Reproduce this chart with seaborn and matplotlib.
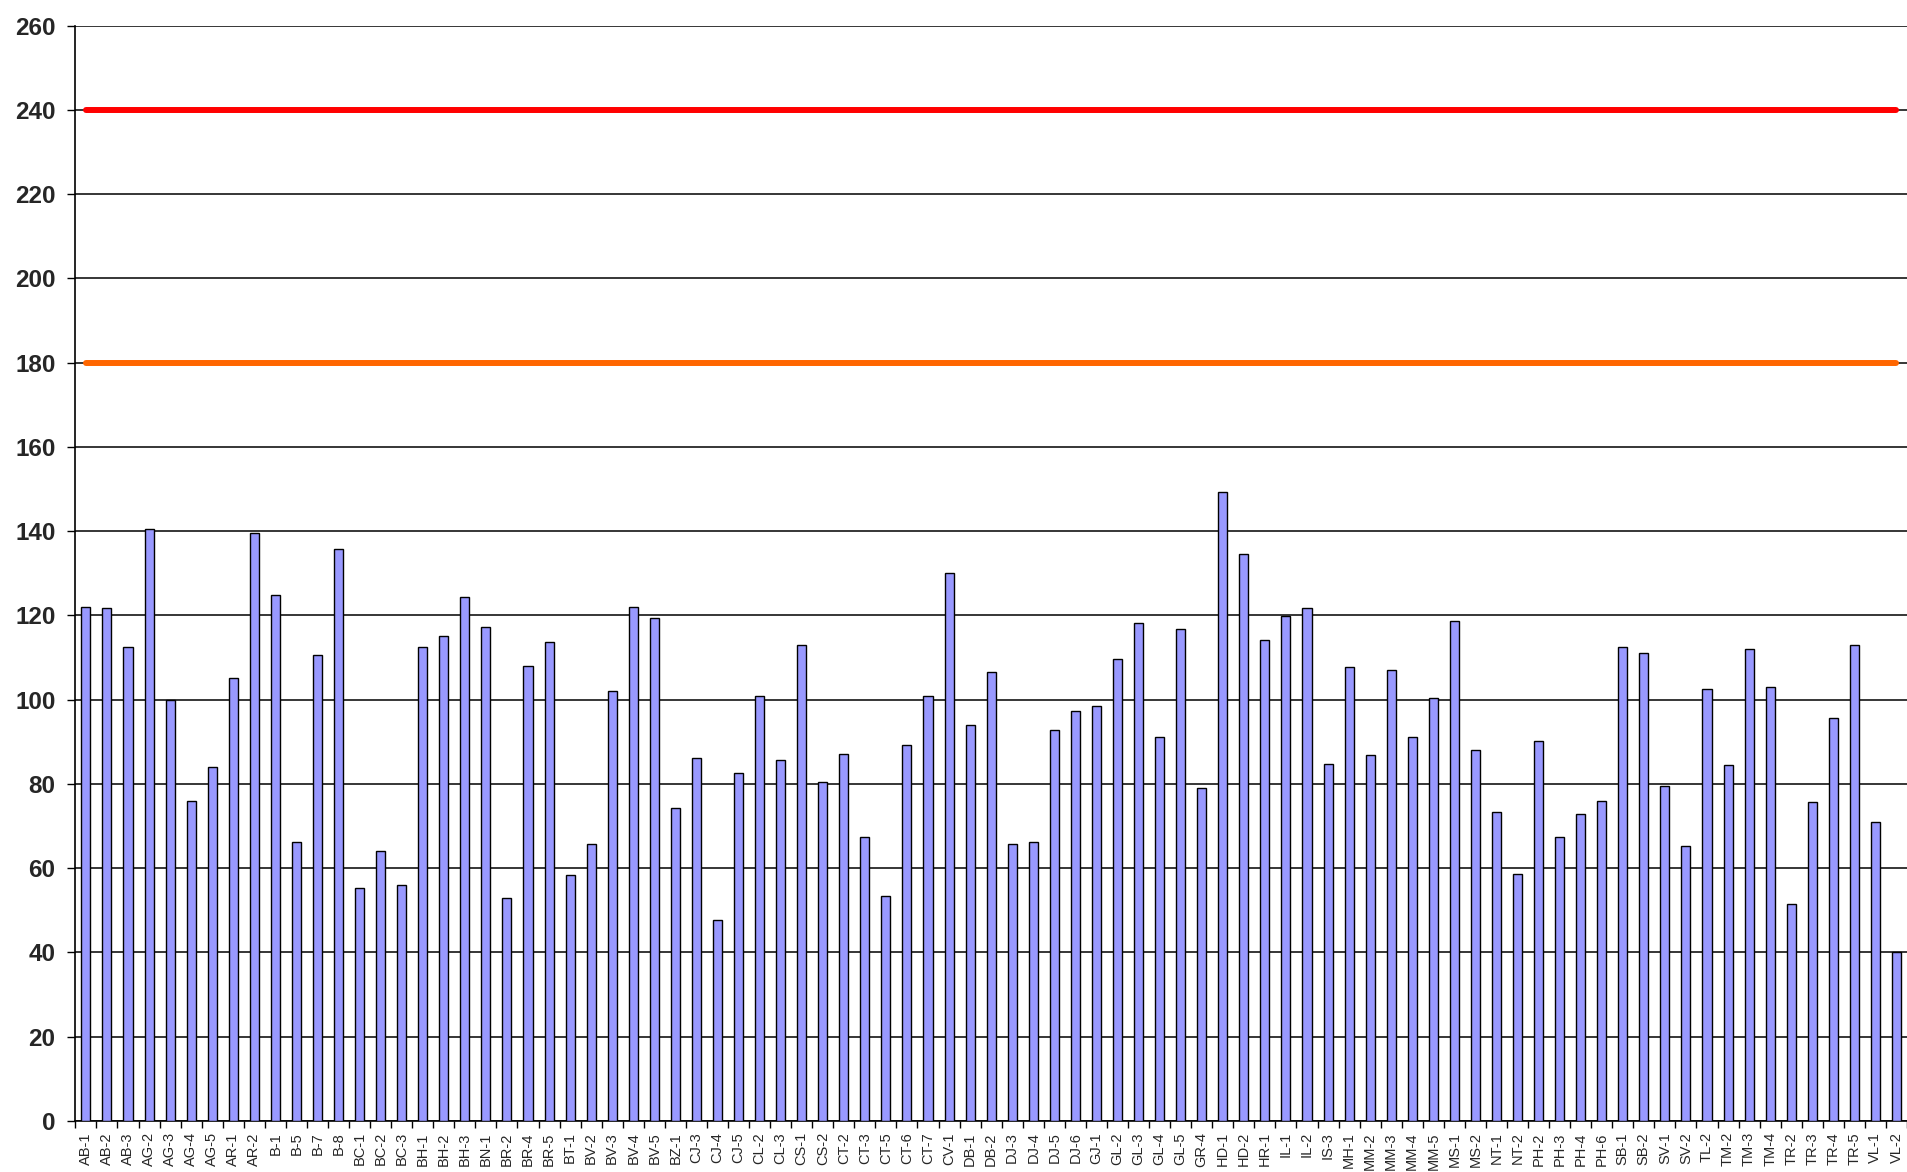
import numpy as np
import pandas as pd
import matplotlib
matplotlib.use("Agg")
import matplotlib.pyplot as plt
import seaborn as sns

# sample codes along the x axis
categories = [
    "AB-1", "AB-2", "AB-3", "AG-2", "AG-3", "AG-4", "AG-5", "AR-1", "AR-2",
    "B-1", "B-5", "B-7", "B-8", "BC-1", "BC-2", "BC-3", "BH-1", "BH-2", "BH-3",
    "BN-1", "BR-2", "BR-4", "BR-5", "BT-1", "BV-2", "BV-3", "BV-4", "BV-5",
    "BZ-1", "CJ-3", "CJ-4", "CJ-5", "CL-2", "CL-3", "CS-1", "CS-2", "CT-2",
    "CT-3", "CT-5", "CT-6", "CT-7", "CV-1", "DB-1", "DB-2", "DJ-3", "DJ-4",
    "DJ-5", "DJ-6", "GJ-1", "GL-2", "GL-3", "GL-4", "GL-5", "GR-4", "HD-1",
    "HD-2", "HR-1", "IL-1", "IL-2", "IS-3", "MH-1", "MM-2", "MM-3", "MM-4",
    "MM-5", "MS-1", "MS-2", "NT-1", "NT-2", "PH-2", "PH-3", "PH-4", "PH-6",
    "SB-1", "SB-2", "SV-1", "SV-2", "TL-2", "TM-2", "TM-3", "TM-4", "TR-2",
    "TR-3", "TR-4", "TR-5", "VL-1", "VL-2",
]

values = [
    122.1, 121.7, 112.5, 140.4, 100.0, 76.0, 84.0, 105.2, 139.6,
    124.8, 66.2, 110.6, 135.8, 55.2, 64.0, 56.0, 112.5, 115.1, 124.4,
    117.3, 52.9, 107.9, 113.6, 58.3, 65.7, 102.1, 122.1, 119.4,
    74.2, 86.2, 47.6, 82.6, 100.8, 85.7, 112.9, 80.4, 87.1,
    67.5, 53.3, 89.3, 100.8, 130.1, 94.0, 106.5, 65.7, 66.2,
    92.8, 97.2, 98.6, 109.6, 118.2, 91.1, 116.8, 79.0, 149.3,
    134.6, 114.2, 119.8, 121.7, 84.8, 107.8, 86.9, 107.0, 91.1,
    100.4, 118.6, 88.0, 73.4, 58.7, 90.2, 67.5, 72.9, 76.0,
    112.4, 111.0, 79.6, 65.2, 102.6, 84.4, 112.0, 103.0, 51.6,
    75.6, 95.6, 112.9, 70.9, 40.0,
]

upper_limit = 240
lower_limit = 180
y_ticks = list(range(0, 261, 20))

df = pd.DataFrame({"sample": categories, "value": values})
n = len(categories)

sns.set_style("white")
plt.rcParams["font.family"] = ["Liberation Sans", "DejaVu Sans"]

fig = plt.figure(figsize=(19.07, 11.72), dpi=100)
ax = fig.add_axes([0.0393, 0.0435, 0.9607, 0.9347])

sns.barplot(data=df, x="sample", y="value", color="#9999ff", saturation=1,
            edgecolor="black", linewidth=1.0, width=0.43, ax=ax, zorder=3)

# limit lines
ax.plot(np.arange(n), np.full(n, upper_limit), color="#ff0000", lw=4.3,
        solid_capstyle="round", zorder=4)
ax.plot(np.arange(n), np.full(n, lower_limit), color="#ff6600", lw=4.3,
        solid_capstyle="round", zorder=4)

ax.set_ylim(0, 260)
ax.set_xlim(-0.52, n - 1 + 0.19)
ax.set_yticks(y_ticks)
ax.set_yticklabels([str(t) for t in y_ticks], fontsize=17.5, fontweight="bold")
ax.yaxis.grid(True, color="black", linewidth=1.1, zorder=0)
ax.set_axisbelow(True)

# ticks between bars, labels under the bars
ax.set_xticks(np.arange(n + 1) - 0.5)
ax.set_xticklabels([])
ax.set_xticks(np.arange(n), minor=True)
ax.set_xticklabels(categories, minor=True, rotation=90, fontsize=10.5, va="top")
ax.tick_params(axis="x", which="major", direction="out", length=5, width=1,
               color="black", bottom=True)
ax.tick_params(axis="x", which="minor", length=0, pad=8)
ax.tick_params(axis="y", direction="out", length=6, width=1, color="black",
               left=True, pad=8)

ax.set_xlabel("")
ax.set_ylabel("")
for side in ["top", "right"]:
    ax.spines[side].set_visible(False)
for side in ["left", "bottom"]:
    ax.spines[side].set_color("black")
    ax.spines[side].set_linewidth(1.2)

fig.savefig("out.png", dpi=100)
